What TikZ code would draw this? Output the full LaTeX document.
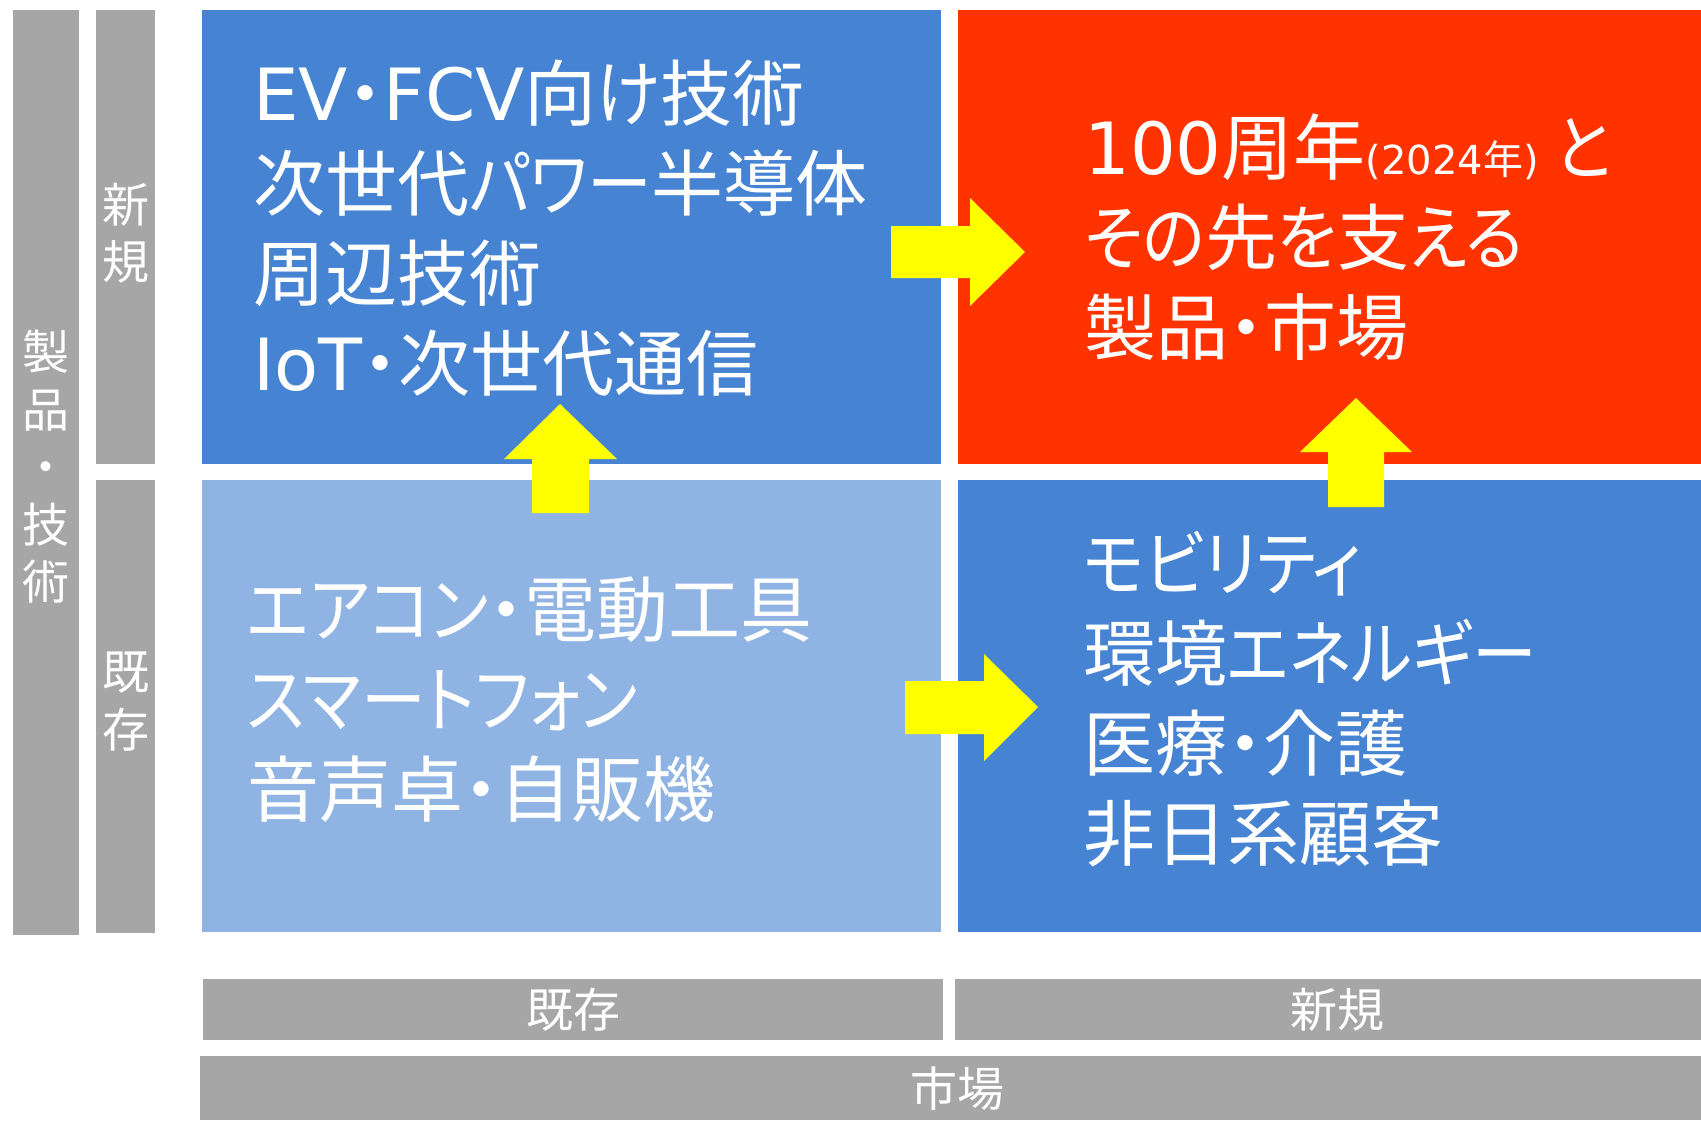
\documentclass[tikz,border=0pt]{standalone}
\usepackage{fontspec}
\setmainfont{Noto Sans CJK JP}[RawFeature=+palt]
\newfontfamily\latinfont{DejaVu Sans}
\newfontfamily\kanafont{Noto Sans CJK JP}[RawFeature=+palt, FakeStretch=0.9]
\newcommand{\kanarun}[1]{{\kanafont #1}}
\usetikzlibrary{positioning}
\usepackage{xcolor}
\definecolor{quadblue}{HTML}{4684D3}
\definecolor{quadlight}{HTML}{8FB4E3}
\definecolor{quadred}{HTML}{FF3300}
\definecolor{bargray}{HTML}{A6A6A6}
\definecolor{arrowyellow}{HTML}{FFFF00}

\begin{document}
\begin{tikzpicture}[x=1pt, y=-1pt,
    quad/.style={rectangle, fill=#1, anchor=north west, inner sep=0pt},
    bar/.style={rectangle, fill=bargray, anchor=north west, inner sep=0pt},
    barlbl/.style={text=white, align=center, inner sep=0pt,
                   font=\fontsize{47}{57.5}\selectfont},
    itemtxt/.style={anchor=north west, inner sep=0pt, align=left,
                    text=white, font=\fontsize{72}{90}\selectfont},
    bigarrow/.style={fill=arrowyellow}
]
\useasboundingbox (0,0) rectangle (1701,1120);

% Left: axis bars (products / technology)
\node[bar, minimum width=66pt, minimum height=925pt,
      label={[barlbl, yshift=6pt]center:製\\品\\・\\技\\術}] (prodtech) at (13,10) {};
\node[bar, minimum width=59pt, minimum height=454pt,
      label={[barlbl, yshift=4pt]center:新\\規}] (rownew) at (96,10) {};
\node[bar, minimum width=59pt, minimum height=453pt,
      label={[barlbl, yshift=5pt]center:既\\存}] (rowold) at (96,480) {};

% Matrix quadrants
\node[quad=quadblue, minimum width=739pt, minimum height=454pt] (tl) at (202,10) {};
\node[quad=quadred, minimum width=743pt, minimum height=454pt] (tr) at (958,10) {};
\node[quad=quadlight, minimum width=739pt, minimum height=452pt] (bl) at (202,480) {};
\node[quad=quadblue, minimum width=743pt, minimum height=452pt] (br) at (958,480) {};

% Quadrant texts
\node[itemtxt] (tltext) at (253,60)
  {{\latinfont EV}・{\latinfont FCV}向\kanarun{け}技術\\次世代\kanarun{パワー}半導体\\周辺技術\\{\latinfont IoT}・次世代通信};
\node[itemtxt] (trtext) at (1084,114)
  {{\latinfont 100}周年{\fontsize{40}{40}\selectfont{\latinfont (2024}年{\latinfont )}} \kanarun{と}\\\kanarun{その}先\kanarun{を}支\kanarun{える}\\製品・市場};
\node[itemtxt] (bltext) at (247,577)
  {\kanarun{エアコン}・電動工具\\\kanarun{スマートフォン}\\音声卓・自販機};
\node[itemtxt] (brtext) at (1083,531)
  {\kanarun{モビリティ}\\環境\kanarun{エネルギー}\\医療・介護\\非日系顧客};

% Bottom: market bars
\node[bar, minimum width=740pt, minimum height=61pt,
      label={[barlbl]center:既存}] (colold) at (203,979) {};
\node[bar, minimum width=746pt, minimum height=61pt,
      label={[barlbl, xshift=9pt]center:新規}] (colnew) at (955,979) {};
\node[bar, minimum width=1501pt, minimum height=64pt,
      label={[barlbl, xshift=7pt]center:市場}] (market) at (200,1056) {};

% Yellow block arrows
\fill[bigarrow] (891,226) -- (970,226) -- (970,198) -- (1025,252) -- (970,306) -- (970,278) -- (891,278) -- cycle;
\fill[bigarrow] (905,681) -- (984,681) -- (984,654) -- (1038,707) -- (984,761) -- (984,734) -- (905,734) -- cycle;
\fill[bigarrow] (532,513) -- (532,459) -- (504,459) -- (560,404) -- (617,459) -- (589,459) -- (589,513) -- cycle;
\fill[bigarrow] (1328,507) -- (1328,452) -- (1300,452) -- (1356,398) -- (1412,452) -- (1384,452) -- (1384,507) -- cycle;

\end{tikzpicture}
\end{document}
